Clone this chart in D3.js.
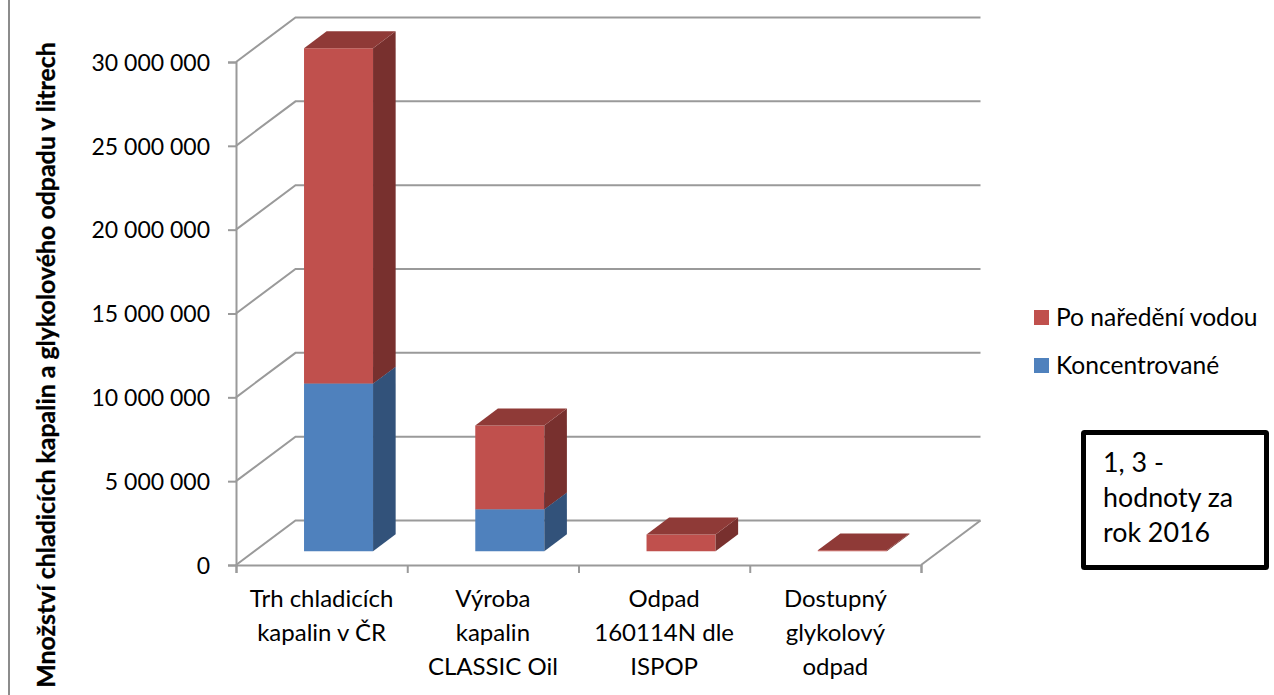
<!DOCTYPE html>
<html lang="cs">
<head>
<meta charset="UTF-8">
<title>Množství chladicích kapalin a glykolového odpadu</title>
<script src="https://d3js.org/d3.v7.min.js"></script>
<style>
  html, body { margin: 0; padding: 0; background: #fff; overflow: hidden; }
  svg { display: block; }
  text { font-family: Lato, "Open Sans", sans-serif; fill: #000; }
</style>
</head>
<body>
<svg width="1274" height="695"></svg>
<script>
const categories = [
  ["Trh chladicích", "kapalin v ČR"],
  ["Výroba", "kapalin", "CLASSIC Oil"],
  ["Odpad", "160114N dle", "ISPOP"],
  ["Dostupný", "glykolový", "odpad"]
];
const koncentrovane = [10000000, 2500000, 0, 0];
const poNarezeni = [20000000, 5000000, 1000000, 50000];
const yTicks = [0, 5000000, 10000000, 15000000, 20000000, 25000000, 30000000];
const seriesNames = ["Koncentrované", "Po naředění vodou"];
const yTitle = "Množství chladicích kapalin a glykolového odpadu v litrech";
const noteLines = ["1, 3 -", "hodnoty za", "rok 2016"];

const gridColor = "#9a9a9a";
const colors = {
  "Koncentrované": { front: "#4f81bd", side: "#32527a", top: "#3c6491" },
  "Po naředění vodou": { front: "#c0504d", side: "#78302e", top: "#8f3a37" }
};

const svg = d3.select("svg");
const fmt = d3.formatLocale({ thousands: " ", grouping: [3], decimal: ",", currency: ["", ""] }).format(",d");

const y = d3.scaleLinear().domain([0, 30000000]).range([565, 62]);
const catIdx = d3.scaleLinear().domain([0, 4]).range([236, 921]);
const x = d3.scaleBand().domain(d3.range(categories.length)).range([236, 921])
  .paddingInner(0.597).paddingOuter(0.2985).align(0.485);
// posun do hloubky (0 = predni hrana, 1 = zadni stena)
const depthX = d3.scaleLinear().domain([0, 1]).range([0, 59.5]);
const depthY = d3.scaleLinear().domain([0, 1]).range([0, -44.5]);
const barFront = 0.31, barBack = 0.69;

// stena a podlaha
const walls = svg.append("g").attr("fill", "none").attr("stroke", gridColor).attr("stroke-width", 2);
yTicks.forEach(t => {
  walls.append("path").attr("d", d3.line()([
    [catIdx(0), y(t)],
    [catIdx(0) + depthX(1), y(t) + depthY(1)],
    [catIdx(4) + depthX(1), y(t) + depthY(1)]
  ]));
});
walls.append("line")
  .attr("x1", catIdx(4)).attr("y1", y(0))
  .attr("x2", catIdx(4) + depthX(1)).attr("y2", y(0) + depthY(1));

// levy okraj obrazku
svg.append("line").attr("x1", 9).attr("x2", 9).attr("y1", 0).attr("y2", 695)
  .attr("stroke", "#8c8c8c").attr("stroke-width", 2);

// sloupce
const stacked = d3.stack().keys(seriesNames)(categories.map((c, i) => ({
  "Koncentrované": koncentrovane[i],
  "Po naředění vodou": poNarezeni[i]
})));

const poly = pts => d3.line()(pts) + "Z";
stacked.forEach(s => {
  const col = colors[s.key];
  const g = svg.append("g");
  s.forEach((d, i) => {
    if (d[1] === d[0]) return;
    const x0 = x(i) + depthX(barFront), x1 = x0 + x.bandwidth();
    const sx = depthX(barBack) - depthX(barFront);
    const yb = y(d[0]) + depthY(barFront), yt = y(d[1]) + depthY(barFront);
    const sy = depthY(barBack) - depthY(barFront);
    g.append("path").attr("fill", col.front).attr("d", poly([[x0, yb], [x1, yb], [x1, yt], [x0, yt]]));
    g.append("path").attr("fill", col.side).attr("d", poly([[x1, yb], [x1 + sx, yb + sy], [x1 + sx, yt + sy], [x1, yt]]));
    g.append("path").attr("fill", col.top).attr("d", poly([[x0, yt], [x1, yt], [x1 + sx, yt + sy], [x0 + sx, yt + sy]]));
  });
});

// osy
const yAxis = svg.append("g").attr("transform", "translate(236,0)")
  .call(d3.axisLeft(y).tickValues(yTicks).tickFormat(fmt).tickSize(8).tickPadding(18));
yAxis.selectAll("text").attr("font-size", 23).attr("dy", "0.36em");

const xAxis = svg.append("g").attr("transform", "translate(0,565)")
  .call(d3.axisBottom(catIdx).ticks(4).tickFormat("").tickSize(8));

[yAxis, xAxis].forEach(a => {
  a.selectAll("path.domain").attr("stroke", gridColor).attr("stroke-width", 2);
  a.selectAll(".tick line").attr("stroke", gridColor).attr("stroke-width", 2);
});

// popisky kategorii
categories.forEach((lines, i) => {
  const t = svg.append("text").attr("text-anchor", "middle").attr("font-size", 24);
  lines.forEach((l, j) => {
    t.append("tspan").attr("x", catIdx(i + 0.5)).attr("y", 606.5 + j * 34).text(l);
  });
});

// nazev osy
svg.append("text")
  .attr("transform", "translate(55,365) rotate(-90)")
  .attr("text-anchor", "middle").attr("font-size", 24.9).attr("font-weight", 700)
  .attr("stroke", "#000").attr("stroke-width", 0.3)
  .text(yTitle);

// legenda
const legendRows = [seriesNames[1], seriesNames[0]];
const legendY = d3.scalePoint().domain(legendRows).range([317.5, 365.5]);
legendRows.forEach(n => {
  svg.append("rect").attr("x", 1034).attr("y", legendY(n) - 7.5).attr("width", 15).attr("height", 15)
    .attr("fill", colors[n].front);
  svg.append("text").attr("x", 1056).attr("y", legendY(n) + 8).attr("font-size", 24.6).text(n);
});

// poznamka
svg.append("rect").attr("x", 1083.5).attr("y", 432.5).attr("width", 183).attr("height", 135)
  .attr("rx", 1).attr("fill", "#fff").attr("stroke", "#000").attr("stroke-width", 5);
const note = svg.append("text").attr("font-size", 26.8);
noteLines.forEach((l, j) => {
  note.append("tspan").attr("x", 1103).attr("y", 471.5 + j * 35).text(l);
});
</script>
</body>
</html>
